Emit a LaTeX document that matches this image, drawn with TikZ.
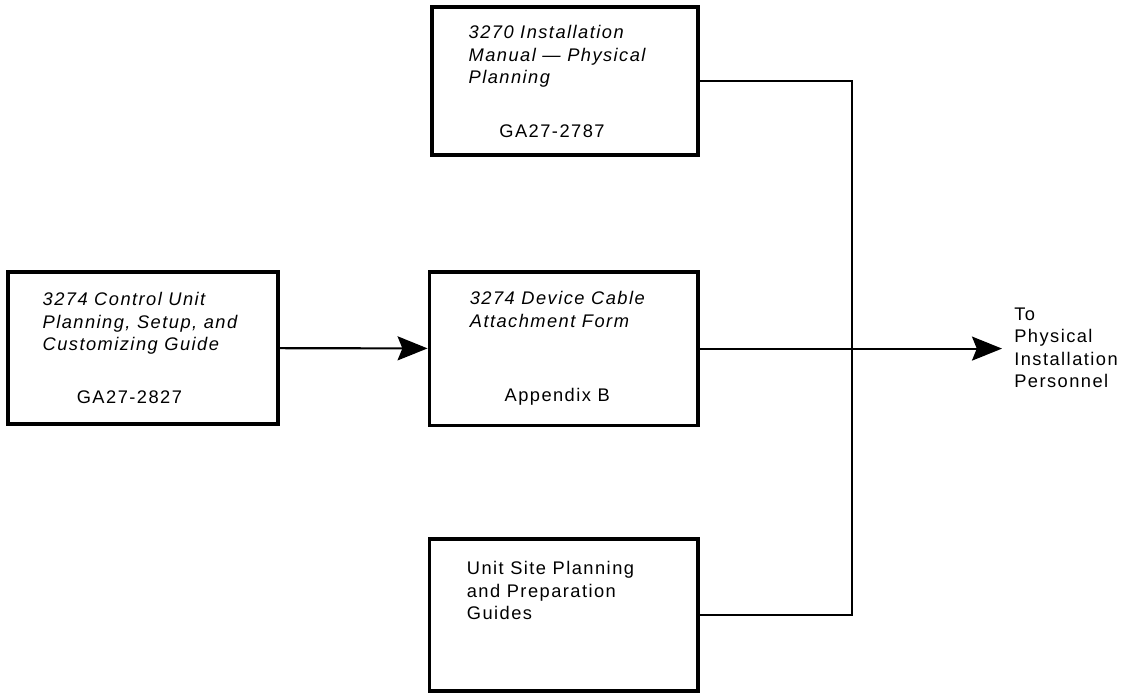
\documentclass[tikz,border=0pt]{standalone}
\usepackage{fontspec}
\setmainfont{Liberation Sans}[LetterSpace=8]
\usepackage{tikz}
\usetikzlibrary{positioning, arrows.meta, calc}

\newcommand{\labelsize}{\fontsize{13}{16}\selectfont}

\begin{document}
\begin{tikzpicture}[
    font=\labelsize,
    box/.style={rectangle, draw=black, line width=2.3pt, minimum width=6.72cm,
                minimum height=3.8cm, inner sep=0pt},
    title/.style={anchor=north west, align=left, inner sep=0pt, font=\labelsize\itshape},
    plain/.style={anchor=north west, align=left, inner sep=0pt, font=\labelsize},
    code/.style={anchor=base, inner sep=0pt, font=\labelsize},
    link/.style={line width=1.5pt},
    arrow/.style={-{Stealth[length=7.5mm, width=6mm, inset=1.2mm]}, line width=1.5pt}
]
    \useasboundingbox (0,0) rectangle (28.15,17.325);

    % Boxes
    \node[box, minimum width=6.65cm, minimum height=3.7cm] (manual) at (14.125, 15.3) {};
    \node[box, minimum width=6.75cm] (guide) at (3.575, 8.625) {};
    \node[box, minimum height=3.83cm] (form) at (14.09, 8.61) {};
    \node[box] (site) at (14.09, 1.95) {};

    % Box texts
    \node[title] (manualtitle) at ([shift={(0.95,-0.5)}]manual.north west)
        {3270 Installation\\Manual — Physical\\Planning};
    \node[code] (manualcode) at ([shift={(-0.325,0.475)}]manual.south) {GA27-2787};

    \node[title] (guidetitle) at ([shift={(0.9,-0.55)}]guide.north west)
        {3274 Control Unit\\Planning, Setup, and\\Customizing Guide};
    \node[code] (guidecode) at ([shift={(-0.34,0.55)}]guide.south) {GA27-2827};

    \node[title] (formtitle) at ([shift={(1.05,-0.525)}]form.north west)
        {3274 Device Cable\\Attachment Form};
    \node[code] (formcode) at ([shift={(-0.16,0.625)}]form.south) {Appendix B};

    \node[plain] (sitetitle) at ([shift={(0.975,-0.6)}]site.north west)
        {Unit Site Planning\\and Preparation\\Guides};

    % Junction and output
    \coordinate (join) at (21.3, 8.61);
    \coordinate (out) at (25.05, 8.61);
    \node[plain] (target) at ([shift={(0.3,1.03)}]out)
        {To\\Physical\\Installation\\Personnel};

    % Connectors
    \draw[arrow] (guide) -- (form);
    \draw[link] (manual) -| (join);
    \draw[link] (site) -| (join);
    \draw[arrow] (form) -- (out);

\end{tikzpicture}
\end{document}
